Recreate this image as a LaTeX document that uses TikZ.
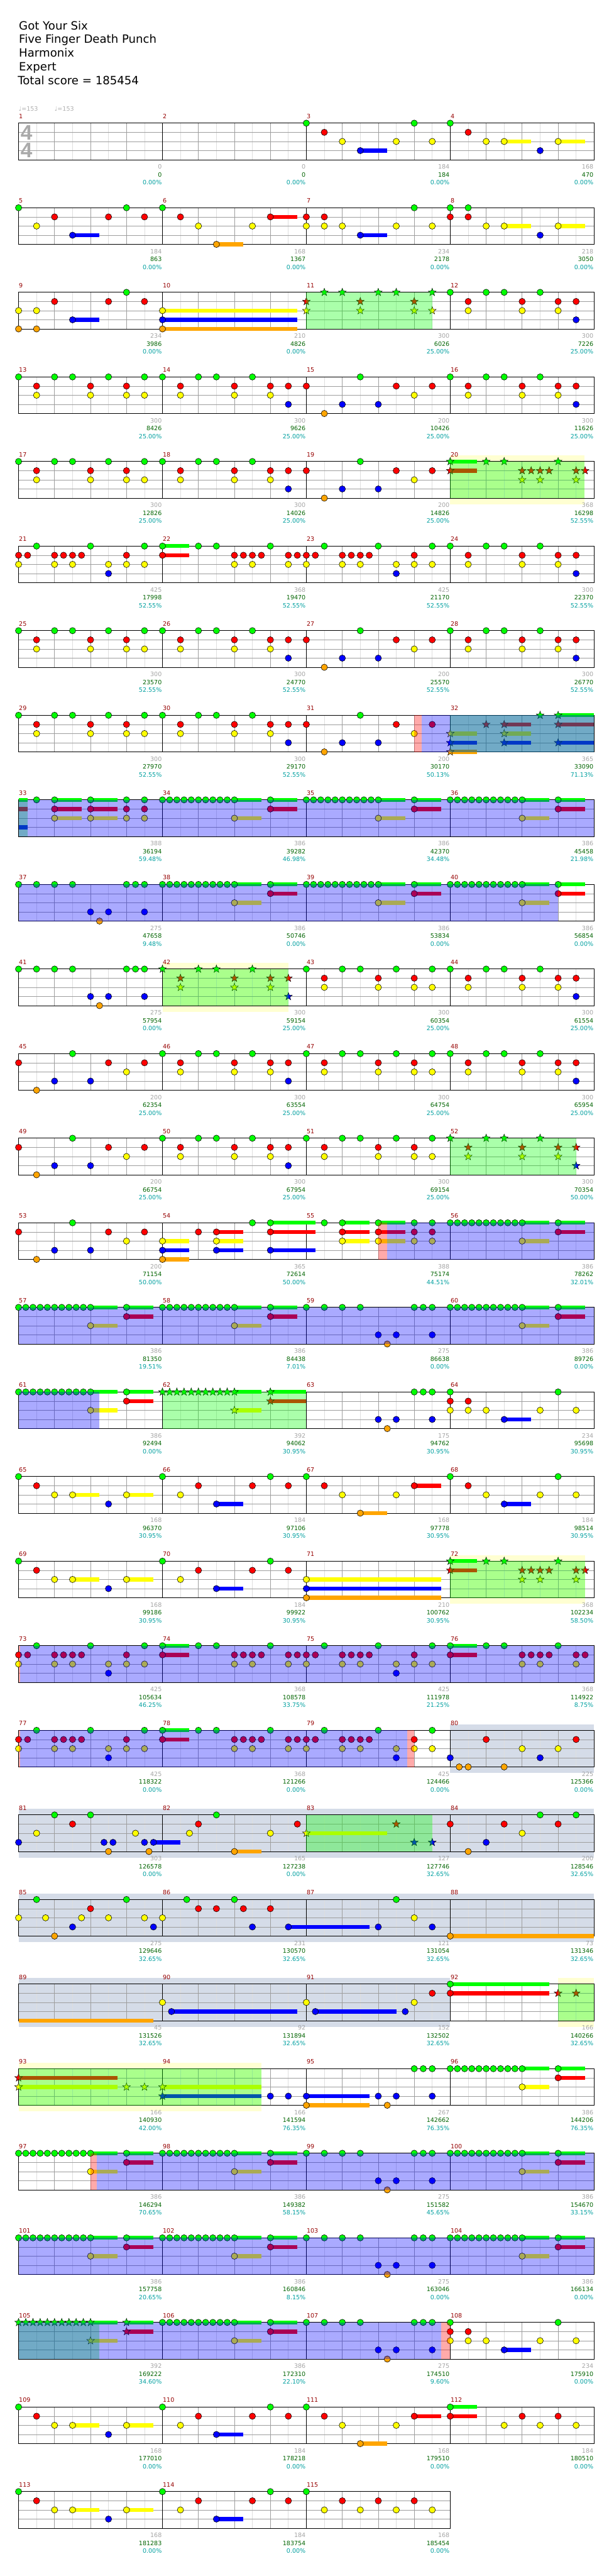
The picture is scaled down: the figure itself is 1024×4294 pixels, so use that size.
\documentclass[tikz,border=0pt]{standalone}
\usepackage{fontspec}
\setmainfont{DejaVu Sans}
\newfontfamily\tsfont{Liberation Sans}
\definecolor{cG}{RGB}{0,255,0}
\definecolor{cR}{RGB}{255,0,0}
\definecolor{cY}{RGB}{255,255,0}
\definecolor{cB}{RGB}{0,0,255}
\definecolor{cO}{RGB}{255,165,0}
\definecolor{mnum}{RGB}{150,0,0}
\definecolor{sgray}{RGB}{165,165,165}
\definecolor{sgreen}{RGB}{0,100,0}
\definecolor{scyan}{RGB}{0,160,160}
\definecolor{bgy}{RGB}{255,255,210}
\definecolor{bgs}{RGB}{213,220,232}
\definecolor{gl}{RGB}{222,222,222}
\definecolor{gd}{RGB}{158,158,158}
\definecolor{tgray}{RGB}{175,175,175}
\definecolor{tsg}{RGB}{170,170,170}
\tikzset{
 nst/.style={fill=cG,draw=black,line width=0.6pt},
 mlab/.style={anchor=base west,inner sep=0pt,text=mnum,font=\fontsize{10}{10}\selectfont},
 slab/.style={anchor=base east,inner sep=0pt,font=\fontsize{10}{10}\selectfont},
 hdr/.style={anchor=base west,inner sep=0pt,font=\fontsize{19}{23}\selectfont},
 tempo/.style={anchor=base west,inner sep=0pt,text=tgray,font=\fontsize{10}{10}\selectfont},
 tsig/.style={anchor=base,inner sep=0pt,text=tsg,font=\tsfont\bfseries\fontsize{35}{35}\selectfont},
}
% circles
\newcommand\nts[3]{\foreach \p in {#2}{\filldraw[fill=#1,draw=black,line width=0.6pt] ({(\p)*15},{#3}) circle (5.3);}}
\newcommand\nG[1]{\nts{cG}{#1}{0}}
\newcommand\nR[1]{\nts{cR}{#1}{15.25}}
\newcommand\nY[1]{\nts{cY}{#1}{30.5}}
\newcommand\nB[1]{\nts{cB}{#1}{45.75}}
\newcommand\nO[1]{\nts{cO}{#1}{61}}
% stars
\newcommand\sts[3]{\foreach \p in {#2}{\filldraw[fill=#1,draw=black,line width=0.5pt,shift={({(\p)*15},{#3})}] (270:6.8)--(306:2.8)--(342:6.8)--(18:2.8)--(54:6.8)--(90:2.8)--(126:6.8)--(162:2.8)--(198:6.8)--(234:2.8)--cycle;}}
\newcommand\xG[1]{\sts{cG}{#1}{0}}
\newcommand\xR[1]{\sts{cR}{#1}{15.25}}
\newcommand\xY[1]{\sts{cY}{#1}{30.5}}
\newcommand\xB[1]{\sts{cB}{#1}{45.75}}
\newcommand\xO[1]{\sts{cO}{#1}{61}}
% sustains
\newcommand\susl[4]{\fill[#1] ({(#2)*15},{#4-3.3}) rectangle ({(#3)*15},{#4+3.3});}
\newcommand\uG[2]{\susl{cG}{#1}{#2}{0}}
\newcommand\uR[2]{\susl{cR}{#1}{#2}{15.25}}
\newcommand\uY[2]{\susl{cY}{#1}{#2}{30.5}}
\newcommand\uB[2]{\susl{cB}{#1}{#2}{45.75}}
\newcommand\uO[2]{\susl{cO}{#1}{#2}{61}}
% overlays and backgrounds
\newcommand\ovl[3]{\fill[#1,opacity=0.333] ({(#2)*15},0) rectangle ({(#3)*15},61);}
\newcommand\vG[2]{\ovl{cG}{#1}{#2}}
\newcommand\vB[2]{\ovl{cB}{#1}{#2}}
\newcommand\vR[2]{\ovl{cR}{#1}{#2}}
\newcommand\bY[2]{\fill[bgy] ({(#1)*15},-10) rectangle ({(#2)*15},71);}
\newcommand\bS[2]{\fill[bgs] ({(#1)*15},-10) rectangle ({(#2)*15},71);}
% runs
\newcommand\grun[1]{\foreach \i in {0,...,10}{\filldraw[nst] ({(#1+0.8*\i)*15},0) circle (5.3);}}
\newcommand\srun[1]{\foreach \i in {0,...,10}{\sts{cG}{#1+0.8*\i}{0}}}
\newcommand\grunM[1]{\uG{#1+8}{#1+11}\uY{#1+8}{#1+11}\uG{#1+12}{#1+15}\uR{#1+12}{#1+15}\grun{#1}\nY{#1+8}\nG{#1+12}\nR{#1+12}}
% staff
\newcommand\staff[1]{%
 \pgfmathtruncatemacro\W{240*#1}\pgfmathtruncatemacro\Wa{\W-30}\pgfmathtruncatemacro\Wb{\W-60}\pgfmathtruncatemacro\Wc{\W-240}%
 \foreach \x in {30,90,...,\Wa}{\draw[gl,line width=0.8pt] (\x,0) -- (\x,61);}
 \foreach \x in {60,120,...,\Wb}{\draw[gd,line width=0.8pt] (\x,0) -- (\x,61);}
 \foreach \y in {15.25,30.5,45.75}{\draw[gd,line width=0.8pt] (0,\y) -- (\W,\y);}
 \foreach \x in {240,480,...,\Wc}{\draw[black,line width=0.9pt] (\x,0) -- (\x,61);}
 \draw[black,line width=1pt] (0,0) rectangle (\W,61);}
\newcommand\meas[5]{%
 \node[mlab] (m#2) at ({#1*240+0.5},-8) {#2};
 \node[slab,text=sgray] (sa#2) at ({#1*240+239},76.5) {#3};
 \node[slab,text=sgreen] (sb#2) at ({#1*240+239},89.5) {#4};
 \node[slab,text=scyan] (sc#2) at ({#1*240+239},102.5) {#5\%};}
% patterns
\newcommand\patB{\nG{0,4,6,10,14,16,20,22,26,38}\nR{2,8,12,18,24,28,30,32,42,46}\nY{2,8,12,14,18,24,28,44}\nB{30,36,40}\nO{34}}
\newcommand\patC{\nG{48,52,54,58}\nR{50,56,60,62}\nY{50,56,60}\nB{62}}
\newcommand\patD{\uG{16}{19}\uR{16}{19}\nG{2,8,14,16,20,22,28,34,40,46}\nR{0,1,4,5,6,7,12,16,24,25,26,27,30,31,32,33,36,37,38,39,44}\nY{0,4,6,10,12,14,24,26,30,32,36,38,42,44,46}\nB{10,42}}
\newcommand\patE{\nG{32,36,38,42,46}\nR{34,40,44}\nY{34,40,44,46}}
\newcommand\patF{\nR{0,10,14}\nO{2}\nB{4,8}\nG{6}\nY{12}}
\newcommand\patG{\nG{16,20,22,26}\nR{18,24,28,30}\nY{18,24,28}\nB{30}}
\newcommand\patH{\nG{32,34,36,38,44,45,46}\nB{40,42,46}\nO{41}}
\begin{document}
\begin{tikzpicture}[x=1pt,y=-1pt]
\useasboundingbox (0,0) rectangle (1024,4294);
\fill[white] (0,0) rectangle (1024,4294);
\node[hdr] (h1) at (31.5,49.3) {Got Your Six};
\node[hdr] (h2) at (31.5,72.3) {Five Finger Death Punch};
\node[hdr] (h3) at (31.5,95.3) {Harmonix};
\node[hdr] (h4) at (31.5,118.3) {Expert};
\node[hdr] (h5) at (29.5,141.3) {Total score = 185454};
\node[tempo] (tp1) at (31,185) {♩=153};
\node[tempo] (tp2) at (91,185) {♩=153};
% row 0
\begin{scope}[shift={(31,205.3)}]
\staff{4}
\node[tsig] (ts1) at (13.3,27.7) {4};
\node[tsig] (ts2) at (13.3,57.7) {4};
\uB{38}{41}\uY{54}{57}\uY{60}{63}
\nG{32,44,48}\nR{34,50}\nY{36,42,46,52,54,60}\nB{38,58}
\meas{0}{1}{0}{0}{0.00}\meas{1}{2}{0}{0}{0.00}\meas{2}{3}{184}{184}{0.00}\meas{3}{4}{168}{470}{0.00}
\end{scope}
% row 1
\begin{scope}[shift={(31,346.3)}]
\staff{4}
\uB{6}{9}\uO{22}{25}\uR{28}{31}\uB{38}{41}\uY{54}{57}\uY{60}{63}
\nG{0,12,16,44,48,50}\nR{4,10,14,18,28,32,34,48,50}\nY{2,20,26,32,34,36,42,46,52,54,60}\nB{6,38,58}\nO{22}
\meas{0}{5}{184}{863}{0.00}\meas{1}{6}{168}{1367}{0.00}\meas{2}{7}{234}{2178}{0.00}\meas{3}{8}{218}{3050}{0.00}
\end{scope}
% row 2
\begin{scope}[shift={(31,487.3)}]
\staff{4}
\uB{6}{9}\uY{16}{31}\uB{16}{31}\uO{16}{31}
\nG{12,48,52,54,58}\nR{4,10,14,50,56,60,62}\nY{0,2,16,50,56,60}\nB{6,16,62}\nO{0,2,16}
\xG{34,36,40,42,46}\xR{32,38,44}\xY{32,38,44,46}
\vG{32}{46}
\meas{0}{9}{234}{3986}{0.00}\meas{1}{10}{210}{4826}{0.00}\meas{2}{11}{300}{6026}{25.00}\meas{3}{12}{300}{7226}{25.00}
\end{scope}
% row 3
\begin{scope}[shift={(31,628.3)}]
\staff{4}
\patB\patC
\meas{0}{13}{300}{8426}{25.00}\meas{1}{14}{300}{9626}{25.00}\meas{2}{15}{200}{10426}{25.00}\meas{3}{16}{300}{11626}{25.00}
\end{scope}
% row 4
\begin{scope}[shift={(31,769.3)}]
\bY{48}{62.9}
\staff{4}
\patB
\uG{48}{51}\uR{48}{51}
\xG{48,52,54,60}\xR{48,56,57,58,59,62,63}\xY{56,58,62}
\vG{48}{62.9}
\meas{0}{17}{300}{12826}{25.00}\meas{1}{18}{300}{14026}{25.00}\meas{2}{19}{200}{14826}{25.00}\meas{3}{20}{368}{16298}{52.55}
\end{scope}
% row 5
\begin{scope}[shift={(31,910.3)}]
\staff{4}
\patD\patC
\meas{0}{21}{425}{17998}{52.55}\meas{1}{22}{368}{19470}{52.55}\meas{2}{23}{425}{21170}{52.55}\meas{3}{24}{300}{22370}{52.55}
\end{scope}
% row 6
\begin{scope}[shift={(31,1051.3)}]
\staff{4}
\patB\patC
\meas{0}{25}{300}{23570}{52.55}\meas{1}{26}{300}{24770}{52.55}\meas{2}{27}{200}{25570}{52.55}\meas{3}{28}{300}{26770}{52.55}
\end{scope}
% row 7
\begin{scope}[shift={(31,1192.3)}]
\staff{4}
\patB
\uY{48}{51}\uB{48}{51}\uO{48}{51}\uR{54}{57}\uY{54}{57}\uB{54}{57}\uG{60}{64}\uR{60}{64}\uB{60}{64}
\xY{48,54}\xB{48,54,60}\xO{48}\xR{52,54,60}\xG{58,60}
\vG{48}{64}\vR{44}{44.8}\vB{44.8}{64}
\meas{0}{29}{300}{27970}{52.55}\meas{1}{30}{300}{29170}{52.55}\meas{2}{31}{200}{30170}{50.13}\meas{3}{32}{365}{33090}{71.13}
\end{scope}
% row 8
\begin{scope}[shift={(31,1333.3)}]
\staff{4}
\uG{0}{1}\uR{0}{1}\uB{0}{1}
\uG{4}{7}\uR{4}{7}\uY{4}{7}\uG{8}{11}\uR{8}{11}\uY{8}{11}
\nG{2,4,8,12,14}\nR{4,8,12,14}\nY{4,8,12,14}
\grunM{16}\grunM{32}\grunM{48}
\vG{0}{1}\vB{0}{64}
\meas{0}{33}{388}{36194}{59.48}\meas{1}{34}{386}{39282}{46.98}\meas{2}{35}{386}{42370}{34.48}\meas{3}{36}{386}{45458}{21.98}
\end{scope}
% row 9
\begin{scope}[shift={(31,1474.3)}]
\staff{4}
\nG{0,2,4,6,12,13,14}\nB{8,10,14}\nO{9}
\grunM{16}\grunM{32}\grunM{48}
\vB{0}{60}
\meas{0}{37}{275}{47658}{9.48}\meas{1}{38}{386}{50746}{0.00}\meas{2}{39}{386}{53834}{0.00}\meas{3}{40}{386}{56854}{0.00}
\end{scope}
% row 10
\begin{scope}[shift={(31,1615.3)}]
\bY{16}{30}
\staff{4}
\nG{0,2,4,6,12,13,14}\nB{8,10,14}\nO{9}
\xG{16,20,22,26}\xR{18,24,28,30}\xY{18,24,28}\xB{30}
\patE\patC
\vG{16}{30}
\meas{0}{41}{275}{57954}{0.00}\meas{1}{42}{300}{59154}{25.00}\meas{2}{43}{300}{60354}{25.00}\meas{3}{44}{300}{61554}{25.00}
\end{scope}
% row 11
\begin{scope}[shift={(31,1756.3)}]
\staff{4}
\patF\patG\patE\patC
\meas{0}{45}{200}{62354}{25.00}\meas{1}{46}{300}{63554}{25.00}\meas{2}{47}{300}{64754}{25.00}\meas{3}{48}{300}{65954}{25.00}
\end{scope}
% row 12
\begin{scope}[shift={(31,1897.3)}]
\staff{4}
\patF\patG\patE
\xG{48,52,54,58}\xR{50,56,60,62}\xY{50,56,60}\xB{62}
\vG{48}{62}
\meas{0}{49}{200}{66754}{25.00}\meas{1}{50}{300}{67954}{25.00}\meas{2}{51}{300}{69154}{25.00}\meas{3}{52}{300}{70354}{50.00}
\end{scope}
% row 13
\begin{scope}[shift={(31,2038.3)}]
\staff{4}
\patF
\uY{16}{19}\uB{16}{19}\uO{16}{19}\uR{22}{25}\uY{22}{25}\uB{22}{25}\uG{28}{33}\uR{28}{33}\uB{28}{33}
\uG{36}{39}\uR{36}{39}\uY{36}{39}\uG{40}{43}\uR{40}{43}\uY{40}{43}
\nY{16,22,36,40,44,46}\nB{16,22,28}\nO{16}\nR{20,22,28,36,40,44,46}\nG{26,28,34,36,40,44,46}
\grunM{48}
\vR{40}{41}\vB{41}{64}
\meas{0}{53}{200}{71154}{50.00}\meas{1}{54}{365}{72614}{50.00}\meas{2}{55}{388}{75174}{44.51}\meas{3}{56}{386}{78262}{32.01}
\end{scope}
% row 14
\begin{scope}[shift={(31,2179.3)}]
\staff{4}
\grunM{0}\grunM{16}\patH\grunM{48}
\vB{0}{64}
\meas{0}{57}{386}{81350}{19.51}\meas{1}{58}{386}{84438}{7.01}\meas{2}{59}{275}{86638}{0.00}\meas{3}{60}{386}{89726}{0.00}
\end{scope}
% row 15
\begin{scope}[shift={(31,2320.3)}]
\staff{4}
\grunM{0}
\uG{24}{27}\uY{24}{27}\uG{28}{32}\uR{28}{32}
\srun{16}\xY{24}\xG{28}\xR{28}
\nG{44,45,46}\nB{40,42,46}\nO{41}
\uB{54}{57}\nG{48,60}\nR{48,50}\nY{48,50,52,58,62}\nB{54}
\vB{0}{9}\vG{16}{32}
\meas{0}{61}{386}{92494}{0.00}\meas{1}{62}{392}{94062}{30.95}\meas{2}{63}{175}{94762}{30.95}\meas{3}{64}{234}{95698}{30.95}
\end{scope}
% row 16
\begin{scope}[shift={(31,2461.3)}]
\staff{4}
\uY{6}{9}\uY{12}{15}\uB{22}{25}\uO{38}{41}\uR{44}{47}\uB{54}{57}
\nG{0,16,28,32,48,60}\nR{2,20,26,30,34,44,50}\nY{4,6,12,18,36,42,52,58,62}\nB{10,22,54}\nO{38}
\meas{0}{65}{168}{96370}{30.95}\meas{1}{66}{184}{97106}{30.95}\meas{2}{67}{168}{97778}{30.95}\meas{3}{68}{184}{98514}{30.95}
\end{scope}
% row 17
\begin{scope}[shift={(31,2602.3)}]
\bY{48}{63}
\staff{4}
\uY{6}{9}\uY{12}{15}\uB{22}{25}\uY{32}{47}\uB{32}{47}\uO{32}{47}\uG{48}{51}\uR{48}{51}
\nG{0,16,28}\nR{2,20,26,30}\nY{4,6,12,18,32}\nB{10,22,32}\nO{32}
\xG{48,52,54,60}\xR{48,56,57,58,59,62,63}\xY{56,58,62}
\vG{48}{63}
\meas{0}{69}{168}{99186}{30.95}\meas{1}{70}{184}{99922}{30.95}\meas{2}{71}{210}{100762}{30.95}\meas{3}{72}{368}{102234}{58.50}
\end{scope}
% row 18
\begin{scope}[shift={(31,2743.3)}]
\staff{4}
\patD
\uG{48}{51}\uR{48}{51}\nG{48,52,54,60}\nR{48,56,57,58,59,62,63}\nY{56,58,62}
\vR{0}{0.15}\vB{0.15}{64}
\meas{0}{73}{425}{105634}{46.25}\meas{1}{74}{368}{108578}{33.75}\meas{2}{75}{425}{111978}{21.25}\meas{3}{76}{368}{114922}{8.75}
\end{scope}
% row 19
\begin{scope}[shift={(31,2884.3)}]
\bS{48}{64}
\staff{4}
\patD
\nB{48,58}\nO{49,50,54}\nR{52,62}\nY{56,60}
\vR{0}{0.15}\vB{0.15}{43.2}\vR{43.2}{44}
\meas{0}{77}{425}{118322}{0.00}\meas{1}{78}{368}{121266}{0.00}\meas{2}{79}{425}{124466}{0.00}\meas{3}{80}{225}{125366}{0.00}
\end{scope}
% row 20
\begin{scope}[shift={(31,3025.3)}]
\bS{0}{64}
\staff{4}
\uB{15}{18}\uO{24}{27}\uY{32}{41}
\nB{0,9.5,10.5,14,15,52}\nY{2,13,19,28,56}\nG{4,8,22,58,62}\nR{6,20,31,48,54,60}\nO{10,14.5,24,50}
\xY{32}\xR{42}\xB{44,46}
\vG{32}{46}
\meas{0}{81}{303}{126578}{0.00}\meas{1}{82}{165}{127238}{0.00}\meas{2}{83}{127}{127746}{32.65}\meas{3}{84}{200}{128546}{32.65}
\end{scope}
% row 21
\begin{scope}[shift={(31,3166.3)}]
\bS{0}{64}
\staff{4}
\uB{30}{39}\uO{48}{64}
\nY{0,3,7,10,14,16,44}\nG{2,12,18.7,24,42}\nO{4,48}\nB{6,15,26,30,40,46}\nR{8,20,22,25,28}
\meas{0}{85}{275}{129646}{32.65}\meas{1}{86}{231}{130570}{32.65}\meas{2}{87}{121}{131054}{32.65}\meas{3}{88}{73}{131346}{32.65}
\end{scope}
% row 22
\begin{scope}[shift={(31,3307.3)}]
\bS{0}{48}\bY{60}{64}
\staff{4}
\uO{0}{15}\uB{17}{31}\uB{33}{42}\uG{48}{59}\uR{48}{59}
\nY{16,32,44}\nB{17,33,43}\nR{46,48}\nG{48}
\xR{60,62}
\vG{60}{64}
\meas{0}{89}{45}{131526}{32.65}\meas{1}{90}{92}{131894}{32.65}\meas{2}{91}{152}{132502}{32.65}\meas{3}{92}{166}{140266}{32.65}
\end{scope}
% row 23
\begin{scope}[shift={(31,3448.3)}]
\bY{0}{27}
\staff{4}
\uR{0}{11}\uY{0}{11}\uY{16}{27}\uB{16}{27}\uB{32}{39}\uO{32}{39}
\xR{0}\xY{0,12,14,16}\xB{16}
\nB{28,30,32,40,42,46}\nO{32,41}\nG{44,45,46}
\grunM{48}
\vG{0}{27}
\meas{0}{93}{166}{140930}{42.00}\meas{1}{94}{166}{141594}{76.35}\meas{2}{95}{267}{142662}{76.35}\meas{3}{96}{386}{144206}{76.35}
\end{scope}
% row 24
\begin{scope}[shift={(31,3589.3)}]
\staff{4}
\grunM{0}\grunM{16}\patH\grunM{48}
\vR{8}{8.7}\vB{8.7}{64}
\meas{0}{97}{386}{146294}{70.65}\meas{1}{98}{386}{149382}{58.15}\meas{2}{99}{275}{151582}{45.65}\meas{3}{100}{386}{154670}{33.15}
\end{scope}
% row 25
\begin{scope}[shift={(31,3730.3)}]
\staff{4}
\grunM{0}\grunM{16}\patH\grunM{48}
\vB{0}{64}
\meas{0}{101}{386}{157758}{20.65}\meas{1}{102}{386}{160846}{8.15}\meas{2}{103}{275}{163046}{0.00}\meas{3}{104}{386}{166134}{0.00}
\end{scope}
% row 26
\begin{scope}[shift={(31,3871.3)}]
\staff{4}
\uG{8}{11}\uY{8}{11}\uG{12}{15}\uR{12}{15}
\srun{0}\xY{8}\xG{12}\xR{12}
\grunM{16}\patH
\uB{54}{57}\nG{48,60}\nR{48,50}\nY{48,50,52,58,62}\nB{54}
\vG{0}{9}\vB{0}{47}\vR{47}{48}
\meas{0}{105}{392}{169222}{34.60}\meas{1}{106}{386}{172310}{22.10}\meas{2}{107}{275}{174510}{9.60}\meas{3}{108}{234}{175910}{0.00}
\end{scope}
% row 27
\begin{scope}[shift={(31,4012.3)}]
\staff{4}
\uY{6}{9}\uY{12}{15}\uB{22}{25}\uO{38}{41}\uR{44}{47}\uG{48}{51}\uR{48}{51}
\nG{0,16,28,32,48}\nR{2,20,26,30,34,44,48,56,60}\nY{4,6,12,18,36,42,54,58,62}\nB{10,22}\nO{38}
\meas{0}{109}{168}{177010}{0.00}\meas{1}{110}{184}{178218}{0.00}\meas{2}{111}{168}{179510}{0.00}\meas{3}{112}{184}{180510}{0.00}
\end{scope}
% row 28
\begin{scope}[shift={(31,4153.3)}]
\staff{3}
\uY{6}{9}\uY{12}{15}\uB{22}{25}
\nG{0,16,28,32}\nR{2,20,26,30,36,40,44}\nY{4,6,12,18,34,38,42,46}\nB{10,22}
\meas{0}{113}{168}{181283}{0.00}\meas{1}{114}{184}{183754}{0.00}\meas{2}{115}{168}{185454}{0.00}
\end{scope}
\end{tikzpicture}
\end{document}
